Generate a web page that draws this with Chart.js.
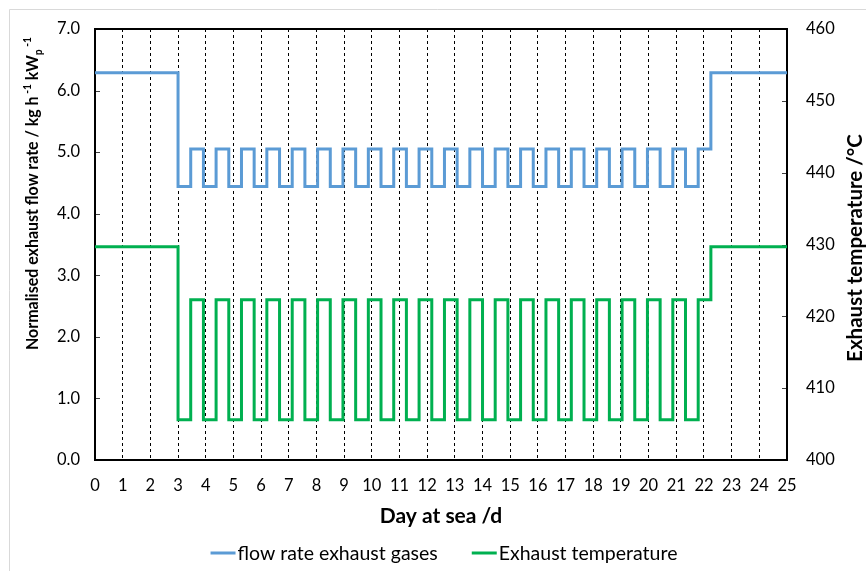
<!DOCTYPE html>
<html>
<head>
<meta charset="utf-8">
<script src="https://cdn.jsdelivr.net/npm/chart.js@4.4.1/dist/chart.umd.min.js"></script>
<style>
  html, body { margin: 0; padding: 0; background: #fff; }
  #wrap { width: 866px; height: 571px; }
</style>
</head>
<body>
<div id="wrap"><canvas id="exhaustChart" width="866" height="571"></canvas></div>
<script>
// day at which each level starts (11 h load cycles between day 3 and 22.25)
const dayBreaks = [0, 3, 3.458, 3.917, 4.375, 4.833, 5.292, 5.75, 6.208, 6.667, 7.125,
  7.583, 8.042, 8.5, 8.958, 9.417, 9.875, 10.333, 10.792, 11.25, 11.708,
  12.167, 12.625, 13.083, 13.542, 14, 14.458, 14.917, 15.375, 15.833, 16.292,
  16.75, 17.208, 17.667, 18.125, 18.583, 19.042, 19.5, 19.958, 20.417, 20.875,
  21.333, 21.792, 22.25, 25];

// kg h-1 kWp-1
const flowRate = [6.29, 4.44, 5.05, 4.44, 5.05, 4.44, 5.05, 4.44, 5.05, 4.44, 5.05,
  4.44, 5.05, 4.44, 5.05, 4.44, 5.05, 4.44, 5.05, 4.44, 5.05,
  4.44, 5.05, 4.44, 5.05, 4.44, 5.05, 4.44, 5.05, 4.44, 5.05,
  4.44, 5.05, 4.44, 5.05, 4.44, 5.05, 4.44, 5.05, 4.44, 5.05,
  4.44, 5.05, 6.29, 6.29];

// deg C
const exhaustTemp = [429.7, 405.6, 422.3, 405.6, 422.3, 405.6, 422.3, 405.6, 422.3, 405.6, 422.3,
  405.6, 422.3, 405.6, 422.3, 405.6, 422.3, 405.6, 422.3, 405.6, 422.3,
  405.6, 422.3, 405.6, 422.3, 405.6, 422.3, 405.6, 422.3, 405.6, 422.3,
  405.6, 422.3, 405.6, 422.3, 405.6, 422.3, 405.6, 422.3, 405.6, 422.3,
  405.6, 422.3, 429.7, 429.7];

const dayTicks = [0, 1, 2, 3, 4, 5, 6, 7, 8, 9, 10, 11, 12, 13, 14, 15, 16, 17, 18, 19, 20, 21, 22, 23, 24, 25];
const flowTicks = [0, 1, 2, 3, 4, 5, 6, 7];
const tempTicks = [400, 410, 420, 430, 440, 450, 460];

const FONT = 'Lato, "Open Sans", sans-serif';

const toPoints = values => dayBreaks.map((d, i) => ({ x: d, y: values[i] }));

const decorations = {
  id: 'decorations',
  beforeDraw(chart) {
    const ctx = chart.ctx;
    ctx.save();
    ctx.fillStyle = '#fff';
    ctx.fillRect(0, 0, chart.width, chart.height);
    ctx.strokeStyle = '#d9d9d9';
    ctx.lineWidth = 1;
    ctx.beginPath();
    ctx.moveTo(9.5, chart.height);
    ctx.lineTo(9.5, 9.5);
    ctx.lineTo(chart.width, 9.5);
    ctx.stroke();
    ctx.restore();
  },
  beforeDatasetsDraw(chart) {
    const { ctx, chartArea: a, scales } = chart;
    ctx.save();
    // small inward tick marks
    ctx.strokeStyle = '#404040';
    ctx.lineWidth = 1;
    ctx.beginPath();
    flowTicks.forEach(v => {
      const y = Math.round(scales.y.getPixelForValue(v)) + 0.5;
      ctx.moveTo(a.left, y); ctx.lineTo(a.left + 5, y);
    });
    tempTicks.forEach(v => {
      const y = Math.round(scales.y1.getPixelForValue(v)) + 0.5;
      ctx.moveTo(a.right, y); ctx.lineTo(a.right - 5, y);
    });
    ctx.stroke();
    // plot frame
    ctx.strokeStyle = '#000';
    ctx.lineWidth = 2;
    ctx.strokeRect(a.left, a.top, a.right - a.left, a.bottom - a.top);
    ctx.restore();
  },
  afterDraw(chart) {
    const ctx = chart.ctx;
    ctx.save();
    ctx.fillStyle = '#000';
    ctx.textBaseline = 'alphabetic';

    // left axis title with super/subscripts, rotated and squeezed to span 313px
    const bold = s => `bold ${s}px ${FONT}`;
    const parts = [
      { t: 'Normalised exhaust flow rate / kg h', s: 17, dy: 0 },
      { t: ' -1', s: 11, dy: -7.5 },
      { t: ' kW', s: 17, dy: 0 },
      { t: 'p', s: 11, dy: 4 },
      { t: ' -1', s: 11, dy: -7.5 }
    ];
    let w = 0;
    parts.forEach(p => { ctx.font = bold(p.s); w += ctx.measureText(p.t).width; });
    ctx.translate(38, 350);
    ctx.rotate(-Math.PI / 2);
    ctx.scale(Math.min(1, 313 / w), 1);
    let x = 0;
    parts.forEach(p => {
      ctx.font = bold(p.s);
      ctx.fillText(p.t, x, p.dy);
      x += ctx.measureText(p.t).width;
    });
    ctx.setTransform(1, 0, 0, 1, 0, 0);

    // right axis title, reads bottom to top
    ctx.font = bold(20.5);
    ctx.textAlign = 'center';
    ctx.translate(862, 248);
    ctx.rotate(-Math.PI / 2);
    ctx.fillText('Exhaust temperature /°C', 0, 0);
    ctx.setTransform(1, 0, 0, 1, 0, 0);

    // legend
    ctx.font = `19.5px ${FONT}`;
    ctx.textAlign = 'left';
    ctx.textBaseline = 'middle';
    const lineLen = 25, gap = 2, itemGap = 34;
    const items = chart.data.datasets.map(ds => ({
      label: ds.label, color: ds.borderColor, w: ctx.measureText(ds.label).width
    }));
    const total = items.reduce((s, it) => s + lineLen + gap + it.w, 0) + itemGap * (items.length - 1);
    let lx = 444 - total / 2;
    const ly = 553;
    items.forEach(it => {
      ctx.strokeStyle = it.color;
      ctx.lineWidth = 3;
      ctx.beginPath();
      ctx.moveTo(lx, ly); ctx.lineTo(lx + lineLen, ly);
      ctx.stroke();
      ctx.fillStyle = '#000';
      ctx.fillText(it.label, lx + lineLen + gap, ly + 1);
      lx += lineLen + gap + it.w + itemGap;
    });
    ctx.restore();
  }
};

const ctx = document.getElementById('exhaustChart');
new Chart(ctx, {
  type: 'line',
  data: {
    datasets: [
      {
        label: 'flow rate exhaust gases',
        data: toPoints(flowRate),
        yAxisID: 'y',
        borderColor: '#5B9BD5',
        borderWidth: 3,
        pointRadius: 0,
        stepped: 'before',
        fill: false
      },
      {
        label: 'Exhaust temperature',
        data: toPoints(exhaustTemp),
        yAxisID: 'y1',
        borderColor: '#00B050',
        borderWidth: 3,
        pointRadius: 0,
        stepped: 'before',
        fill: false
      }
    ]
  },
  options: {
    responsive: false,
    animation: false,
    devicePixelRatio: 1,
    layout: { padding: { top: 29, left: 0, right: 0, bottom: 0 } },
    plugins: {
      legend: { display: false },
      tooltip: { enabled: false }
    },
    scales: {
      x: {
        type: 'linear',
        min: 0,
        max: 25,
        afterBuildTicks: s => { s.ticks = dayTicks.map(v => ({ value: v })); },
        afterFit: s => { s.height = 111; },
        grid: { color: '#000', lineWidth: 1, drawTicks: false },
        border: { display: false, dash: [3, 3] },
        ticks: { color: '#000', font: { family: FONT, size: 16.5 }, padding: 16, maxRotation: 0, autoSkip: false },
        title: {
          display: true,
          text: 'Day at sea /d',
          color: '#000',
          font: { family: FONT, size: 21, weight: 'bold' },
          padding: { top: 0, bottom: 42 }
        }
      },
      y: {
        position: 'left',
        min: 0,
        max: 7,
        afterBuildTicks: s => { s.ticks = flowTicks.map(v => ({ value: v })); },
        afterFit: s => { s.width = 95; },
        grid: { display: false, drawTicks: false },
        border: { display: false },
        ticks: { color: '#000', font: { family: FONT, size: 16.5 }, padding: 15, callback: v => v.toFixed(1) }
      },
      y1: {
        position: 'right',
        min: 400,
        max: 460,
        afterBuildTicks: s => { s.ticks = tempTicks.map(v => ({ value: v })); },
        afterFit: s => { s.width = 79; },
        grid: { display: false, drawTicks: false },
        border: { display: false },
        ticks: { color: '#000', font: { family: FONT, size: 16.5 }, padding: 19 }
      }
    }
  },
  plugins: [decorations]
});
</script>
</body>
</html>
